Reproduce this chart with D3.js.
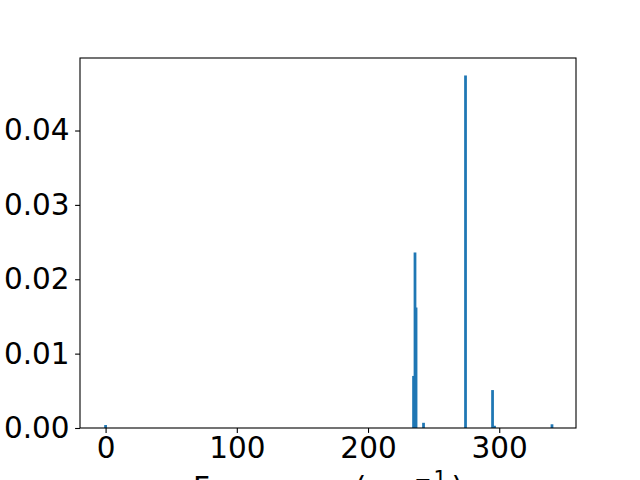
<!DOCTYPE html>
<html><head><meta charset="utf-8">
<script src="https://cdn.jsdelivr.net/npm/d3@7"></script>
<style>body{margin:0;background:#fff}svg{display:block}text{font-family:"DejaVu Sans",sans-serif}</style>
</head><body>
<script>
const frequencies = [0, 234.7, 235.8, 236.6, 242.3, 274.3, 294.9, 296.4, 340.2];
const intensities = [0.0004, 0.0070, 0.0236, 0.0162, 0.0007, 0.0474, 0.0051, 0.0003, 0.0005];
const xTicks = [0, 100, 200, 300];
const yTicks = [0, 0.01, 0.02, 0.03, 0.04];
const barWidth = 2.1;

const W = 640, H = 480;
const m = {left: 80, right: 576, top: 58, bottom: 428};
const svg = d3.select("body").append("svg").attr("width", W).attr("height", H);
const x = d3.scaleLinear().domain([-19.5, 358.5]).range([m.left, m.right]);
const y = d3.scaleLinear().domain([0, 0.04975]).range([m.bottom, m.top]);

svg.append("g").selectAll("rect").data(frequencies).join("rect")
  .attr("x", (d) => x(d - barWidth / 2))
  .attr("width", (d) => x(d + barWidth / 2) - x(d - barWidth / 2))
  .attr("y", (d, i) => y(intensities[i]))
  .attr("height", (d, i) => y(0) - y(intensities[i]))
  .attr("fill", "#1f77b4");

const fs = 29.5;
const xAxis = svg.append("g").attr("transform", `translate(0,${m.bottom})`)
  .call(d3.axisBottom(x).tickValues(xTicks).tickFormat(d3.format("d")).tickSize(4.9).tickPadding(4.5));
const yAxis = svg.append("g").attr("transform", `translate(${m.left},0)`)
  .call(d3.axisLeft(y).tickValues(yTicks).tickFormat(d3.format(".2f")).tickSize(4.9).tickPadding(5.5));
[xAxis, yAxis].forEach(g => {
  g.select(".domain").remove();
  g.selectAll(".tick line").attr("stroke", "#000").attr("stroke-width", 1.1);
  g.selectAll(".tick text").attr("font-size", fs).attr("fill", "#000").attr("font-family", "DejaVu Sans");
});

svg.append("rect").attr("x", m.left).attr("y", m.top)
  .attr("width", m.right - m.left).attr("height", m.bottom - m.top)
  .attr("fill", "none").attr("stroke", "#000").attr("stroke-width", 1.1);

const lab = svg.append("text").attr("x", (m.left + m.right) / 2).attr("y", 498)
  .attr("text-anchor", "middle").attr("font-size", fs).attr("fill", "#000");
lab.append("tspan").text("Frequency (cm");
lab.append("tspan").attr("dx", 3).attr("dy", -12).attr("font-size", fs * 0.7).attr("letter-spacing", 2).text("−1");
lab.append("tspan").attr("dx", 3).attr("dy", 12).text(")");
</script>
</body></html>
